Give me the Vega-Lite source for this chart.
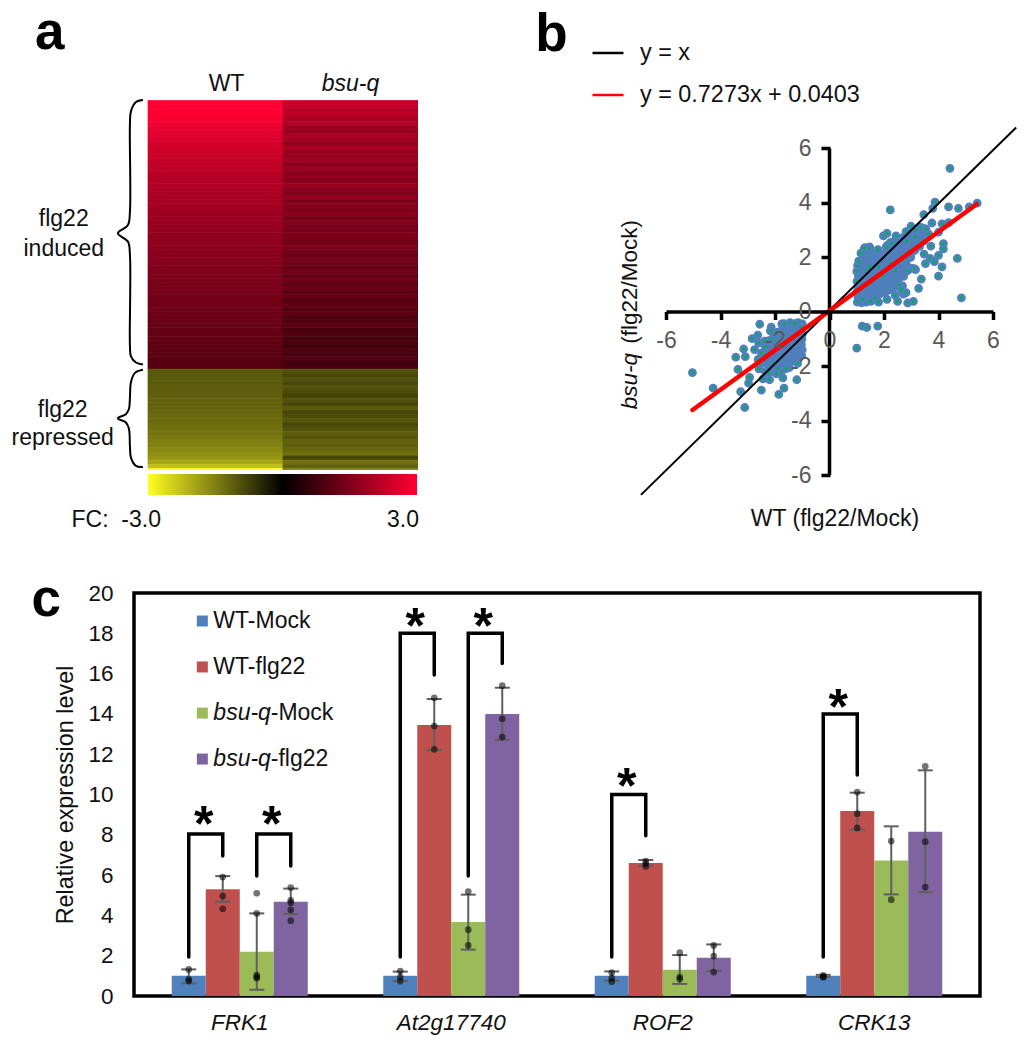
{"$schema":"https://vega.github.io/schema/vega-lite/v6.json","background":"white","padding":{"left":11,"top":7,"right":0,"bottom":0},"config":{"font":"Liberation Sans","view":{"stroke":null},"axis":{"grid":false}},"columns":2,"align":"none","bounds":"flush","spacing":{"row":118,"column":-314},"concat":[
{"width":284,"height":370,"layer":[
{"data":{"values":[
{"g":"WT","r":0,"f":3},{"g":"WT","r":2,"f":3},{"g":"WT","r":4,"f":3},{"g":"WT","r":6,"f":3},{"g":"WT","r":8,"f":2.95},{"g":"WT","r":10,"f":2.85},{"g":"WT","r":12,"f":2.78},{"g":"WT","r":14,"f":2.7},{"g":"WT","r":16,"f":2.64},{"g":"WT","r":18,"f":2.58},{"g":"WT","r":20,"f":2.52},{"g":"WT","r":22,"f":2.46},{"g":"WT","r":24,"f":2.41},{"g":"WT","r":26,"f":2.36},{"g":"WT","r":28,"f":2.32},{"g":"WT","r":30,"f":2.27},{"g":"WT","r":32,"f":2.23},{"g":"WT","r":34,"f":2.19},{"g":"WT","r":36,"f":2.15},{"g":"WT","r":38,"f":2.12},{"g":"WT","r":40,"f":2.08},{"g":"WT","r":42,"f":2.05},{"g":"WT","r":44,"f":2.02},{"g":"WT","r":46,"f":1.99},{"g":"WT","r":48,"f":1.96},{"g":"WT","r":50,"f":1.93},{"g":"WT","r":52,"f":1.9},{"g":"WT","r":54,"f":1.87},{"g":"WT","r":56,"f":1.84},{"g":"WT","r":58,"f":1.81},{"g":"WT","r":60,"f":1.78},{"g":"WT","r":62,"f":1.75},{"g":"WT","r":64,"f":1.73},{"g":"WT","r":66,"f":1.7},{"g":"WT","r":68,"f":1.67},{"g":"WT","r":70,"f":1.65},{"g":"WT","r":72,"f":1.62},{"g":"WT","r":74,"f":1.6},{"g":"WT","r":76,"f":1.57},{"g":"WT","r":78,"f":1.55},{"g":"WT","r":80,"f":1.52},{"g":"WT","r":82,"f":1.5},{"g":"WT","r":84,"f":1.47},{"g":"WT","r":86,"f":1.45},{"g":"WT","r":88,"f":1.43},{"g":"WT","r":90,"f":1.41},{"g":"WT","r":92,"f":1.39},{"g":"WT","r":94,"f":1.36},{"g":"WT","r":96,"f":1.34},{"g":"WT","r":98,"f":1.32},{"g":"WT","r":100,"f":1.3},{"g":"WT","r":102,"f":1.28},{"g":"WT","r":104,"f":1.26},{"g":"WT","r":106,"f":1.24},{"g":"WT","r":108,"f":1.22},{"g":"WT","r":110,"f":1.2},{"g":"WT","r":112,"f":1.18},{"g":"WT","r":114,"f":1.16},{"g":"WT","r":116,"f":1.14},{"g":"WT","r":118,"f":1.12},{"g":"WT","r":120,"f":1.1},{"g":"WT","r":122,"f":1.08},{"g":"WT","r":124,"f":1.06},{"g":"WT","r":126,"f":1.04},{"g":"WT","r":128,"f":1.02},
{"g":"WT","r":130,"f":-1.05},{"g":"WT","r":132,"f":-1.05},{"g":"WT","r":134,"f":-1.06},{"g":"WT","r":136,"f":-1.07},{"g":"WT","r":138,"f":-1.08},{"g":"WT","r":140,"f":-1.1},{"g":"WT","r":142,"f":-1.12},{"g":"WT","r":144,"f":-1.14},{"g":"WT","r":146,"f":-1.16},{"g":"WT","r":148,"f":-1.18},{"g":"WT","r":150,"f":-1.2},{"g":"WT","r":152,"f":-1.23},{"g":"WT","r":154,"f":-1.26},{"g":"WT","r":156,"f":-1.29},{"g":"WT","r":158,"f":-1.33},{"g":"WT","r":160,"f":-1.37},{"g":"WT","r":162,"f":-1.42},{"g":"WT","r":164,"f":-1.47},{"g":"WT","r":166,"f":-1.53},{"g":"WT","r":168,"f":-1.6},{"g":"WT","r":170,"f":-1.68},{"g":"WT","r":172,"f":-1.78},{"g":"WT","r":174,"f":-1.95},{"g":"WT","r":176,"f":-2.25},{"g":"WT","r":178,"f":-3},
{"g":"bsu-q","r":0,"f":2.35},{"g":"bsu-q","r":2,"f":2.3},{"g":"bsu-q","r":4,"f":2.15},{"g":"bsu-q","r":6,"f":2.25},{"g":"bsu-q","r":8,"f":2.0},{"g":"bsu-q","r":10,"f":2.1},{"g":"bsu-q","r":12,"f":1.85},{"g":"bsu-q","r":14,"f":1.75},{"g":"bsu-q","r":16,"f":2.0},{"g":"bsu-q","r":18,"f":1.9},{"g":"bsu-q","r":20,"f":1.7},{"g":"bsu-q","r":22,"f":2.05},{"g":"bsu-q","r":24,"f":1.8},{"g":"bsu-q","r":26,"f":1.75},{"g":"bsu-q","r":28,"f":1.9},{"g":"bsu-q","r":30,"f":1.6},{"g":"bsu-q","r":32,"f":1.85},{"g":"bsu-q","r":34,"f":1.65},{"g":"bsu-q","r":36,"f":1.7},{"g":"bsu-q","r":38,"f":1.55},{"g":"bsu-q","r":40,"f":1.85},{"g":"bsu-q","r":42,"f":1.6},{"g":"bsu-q","r":44,"f":1.5},{"g":"bsu-q","r":46,"f":1.7},{"g":"bsu-q","r":48,"f":1.45},{"g":"bsu-q","r":50,"f":1.6},{"g":"bsu-q","r":52,"f":1.5},{"g":"bsu-q","r":54,"f":1.65},{"g":"bsu-q","r":56,"f":1.4},{"g":"bsu-q","r":58,"f":1.55},{"g":"bsu-q","r":60,"f":1.45},{"g":"bsu-q","r":62,"f":1.35},{"g":"bsu-q","r":64,"f":1.5},{"g":"bsu-q","r":66,"f":1.4},{"g":"bsu-q","r":68,"f":1.3},{"g":"bsu-q","r":70,"f":1.5},{"g":"bsu-q","r":72,"f":1.35},{"g":"bsu-q","r":74,"f":1.25},{"g":"bsu-q","r":76,"f":1.4},{"g":"bsu-q","r":78,"f":1.3},{"g":"bsu-q","r":80,"f":1.2},{"g":"bsu-q","r":82,"f":1.35},{"g":"bsu-q","r":84,"f":1.15},{"g":"bsu-q","r":86,"f":1.3},{"g":"bsu-q","r":88,"f":1.1},{"g":"bsu-q","r":90,"f":1.25},{"g":"bsu-q","r":92,"f":1.05},{"g":"bsu-q","r":94,"f":1.2},{"g":"bsu-q","r":96,"f":1.0},{"g":"bsu-q","r":98,"f":1.15},{"g":"bsu-q","r":100,"f":0.95},{"g":"bsu-q","r":102,"f":1.1},{"g":"bsu-q","r":104,"f":0.9},{"g":"bsu-q","r":106,"f":0.95},{"g":"bsu-q","r":108,"f":1.05},{"g":"bsu-q","r":110,"f":0.85},{"g":"bsu-q","r":112,"f":0.95},{"g":"bsu-q","r":114,"f":0.8},{"g":"bsu-q","r":116,"f":0.9},{"g":"bsu-q","r":118,"f":0.75},{"g":"bsu-q","r":120,"f":0.95},{"g":"bsu-q","r":122,"f":0.8},{"g":"bsu-q","r":124,"f":1.05},{"g":"bsu-q","r":126,"f":0.8},{"g":"bsu-q","r":128,"f":0.9},
{"g":"bsu-q","r":130,"f":-0.95},{"g":"bsu-q","r":132,"f":-0.85},{"g":"bsu-q","r":134,"f":-0.95},{"g":"bsu-q","r":136,"f":-0.85},{"g":"bsu-q","r":138,"f":-1.0},{"g":"bsu-q","r":140,"f":-0.9},{"g":"bsu-q","r":142,"f":-0.8},{"g":"bsu-q","r":144,"f":-0.95},{"g":"bsu-q","r":146,"f":-0.85},{"g":"bsu-q","r":148,"f":-1.05},{"g":"bsu-q","r":150,"f":-0.85},{"g":"bsu-q","r":152,"f":-0.9},{"g":"bsu-q","r":154,"f":-1.0},{"g":"bsu-q","r":156,"f":-0.85},{"g":"bsu-q","r":158,"f":-0.95},{"g":"bsu-q","r":160,"f":-1.1},{"g":"bsu-q","r":162,"f":-1.0},{"g":"bsu-q","r":164,"f":-1.15},{"g":"bsu-q","r":166,"f":-1.1},{"g":"bsu-q","r":168,"f":-1.2},{"g":"bsu-q","r":170,"f":-1.3},{"g":"bsu-q","r":172,"f":-0.85},{"g":"bsu-q","r":174,"f":-1.35},{"g":"bsu-q","r":176,"f":-1.15},{"g":"bsu-q","r":178,"f":-1.6}
]},"mark":{"type":"rect","clip":true,"strokeWidth":0.7},"encoding":{
"x":{"field":"g","type":"nominal","scale":{"domain":["WT","bsu-q"],"range":[14,284],"paddingInner":0,"paddingOuter":0},"axis":{"orient":"top","title":null,"domain":false,"ticks":false,"labelAngle":0,"labelFontSize":23,"labelColor":"#111111","labelPadding":5,"labelOffset":{"condition":{"test":"datum.value=='WT'","value":11},"value":0},"labelFontStyle":{"condition":{"test":"datum.value=='bsu-q'","value":"italic"},"value":"normal"}}},
"y":{"field":"r","type":"quantitative","bin":{"binned":true,"step":2},"scale":{"domain":[0,179],"reverse":true,"nice":false,"zero":false},"axis":null},
"stroke":{"field":"f","type":"quantitative","scale":{"domain":[-3,0,3],"range":["#ffff22","#000000","#ff0033"],"interpolate":"rgb"},"legend":null},
"color":{"field":"f","type":"quantitative","scale":{"domain":[-3,0,3],"range":["#ffff22","#000000","#ff0033"],"interpolate":"rgb"},"legend":{"orient":"none","legendX":14,"legendY":374,"direction":"horizontal","gradientLength":269,"gradientThickness":21,"title":null,"values":[-3,3],"labelFontSize":23,"labelColor":"#111111","labelOffset":14,"labelExpr":"datum.value<0?'FC:\u00a0\u00a0-3.0':'3.0'","encode":{"labels":{"update":{"x":{"signal":"datum.value<0?13:271"},"align":{"value":"right"}}}}}}
}},
{"data":{"values":[
{"b":1,"i":0,"fx":-0.0186,"r":0},{"b":1,"i":1,"fx":-0.0446,"r":1},{"b":1,"i":2,"fx":-0.0632,"r":5.5},{"b":1,"i":3,"fx":-0.0669,"r":11.5},{"b":1,"i":4,"fx":-0.0669,"r":54},{"b":1,"i":5,"fx":-0.0743,"r":60.5},{"b":1,"i":6,"fx":-0.1115,"r":64.5},{"b":1,"i":7,"fx":-0.0743,"r":68.5},{"b":1,"i":8,"fx":-0.0669,"r":75},{"b":1,"i":9,"fx":-0.0669,"r":119},{"b":1,"i":10,"fx":-0.0632,"r":124},{"b":1,"i":11,"fx":-0.0446,"r":127},{"b":1,"i":12,"fx":-0.0186,"r":128},
{"b":2,"i":0,"fx":-0.0186,"r":130.5},{"b":2,"i":1,"fx":-0.0483,"r":132},{"b":2,"i":2,"fx":-0.0632,"r":136.5},{"b":2,"i":3,"fx":-0.0669,"r":144},{"b":2,"i":4,"fx":-0.0706,"r":149.5},{"b":2,"i":5,"fx":-0.0818,"r":152},{"b":2,"i":6,"fx":-0.1115,"r":154},{"b":2,"i":7,"fx":-0.0818,"r":156},{"b":2,"i":8,"fx":-0.0706,"r":159},{"b":2,"i":9,"fx":-0.0669,"r":167.5},{"b":2,"i":10,"fx":-0.0632,"r":173},{"b":2,"i":11,"fx":-0.0446,"r":177},{"b":2,"i":12,"fx":-0.0186,"r":177.5}
]},"mark":{"type":"line","interpolate":"catmull-rom","color":"#000000","strokeWidth":2},"encoding":{
"x":{"field":"fx","type":"quantitative","scale":{"domain":[0,1],"range":[14,284],"nice":false,"zero":false},"axis":null},
"y":{"field":"r","type":"quantitative","scale":{"domain":[0,179],"reverse":true,"nice":false,"zero":false},"axis":null},
"detail":{"field":"b"},"order":{"field":"i"}}},
{"data":{"values":[{"t":"flg22","fx":-0.312,"r":57.5},{"t":"induced","fx":-0.312,"r":72},{"t":"flg22","fx":-0.316,"r":150},{"t":"repressed","fx":-0.316,"r":163.5}]},"mark":{"type":"text","fontSize":23,"color":"#111111","align":"center","baseline":"middle"},"encoding":{
"x":{"field":"fx","type":"quantitative","scale":{"domain":[0,1],"range":[14,284],"nice":false,"zero":false},"axis":null},
"y":{"field":"r","type":"quantitative","scale":{"domain":[0,179],"reverse":true,"nice":false,"zero":false},"axis":null},
"text":{"field":"t"}}},
{"data":{"values":[{"t":"a","fx":-0.364,"r":-24.5}]},"mark":{"type":"text","fontSize":53,"fontWeight":"bold","color":"#000000","align":"center","baseline":"alphabetic"},"encoding":{
"x":{"field":"fx","type":"quantitative","scale":{"domain":[0,1],"range":[14,284],"nice":false,"zero":false},"axis":null},
"y":{"field":"r","type":"quantitative","scale":{"domain":[0,179],"reverse":true,"nice":false,"zero":false},"axis":null},
"text":{"field":"t"}}}
],"resolve":{"scale":{"x":"independent"}}},
{"width":327,"height":375,
"encoding":{
"x":{"field":"x","type":"quantitative","scale":{"domain":[-6,6],"nice":false,"zero":false},"axis":{"title":null,"offset":-163.5,"values":[-6,-4,-2,0,2,4,6],"labelExpr":"''+datum.value","domainWidth":3.5,"domainColor":"#000000","tickColor":"#000000","tickWidth":3.5,"tickSize":8,"labelFontSize":23,"labelColor":"#595959","labelPadding":10,"labelFlush":false,"zindex":1}},
"y":{"field":"y","type":"quantitative","scale":{"domain":[-6,7.78],"nice":false,"zero":false},"axis":{"title":null,"offset":-164,"values":[-6,-4,-2,0,2,4,6],"labelExpr":"''+datum.value","domain":false,"tickColor":"#000000","tickWidth":3.5,"tickSize":9,"labelFontSize":23,"labelColor":"#595959","labelPadding":10,"zindex":1}}},
"layer":[
{"data":{"values":[{"x":0,"y":-6,"y2":6}]},"mark":{"type":"rule","strokeWidth":3.5,"color":"#000000"},"encoding":{"y2":{"field":"y2"}}},
{"data":{"values":[
{"x":1.05,"y":0.52},{"x":1.04,"y":0.9},{"x":1.06,"y":1.3},
{"x":1.2,"y":0.62},{"x":1.17,"y":0.8},{"x":1.23,"y":1.01},{"x":1.2,"y":1.2},{"x":1.16,"y":1.41},{"x":1.21,"y":1.6},{"x":1.19,"y":1.81},{"x":1.24,"y":2.0},
{"x":1.37,"y":0.55},{"x":1.33,"y":0.72},{"x":1.38,"y":0.95},{"x":1.35,"y":1.15},{"x":1.32,"y":1.35},{"x":1.34,"y":1.75},{"x":1.39,"y":1.95},{"x":1.33,"y":2.15},
{"x":1.48,"y":0.6},{"x":1.53,"y":0.82},{"x":1.47,"y":1.25},{"x":1.54,"y":1.45},{"x":1.51,"y":1.85},{"x":1.46,"y":2.05},{"x":1.53,"y":2.2},
{"x":1.63,"y":0.75},{"x":1.68,"y":0.95},{"x":1.65,"y":1.15},{"x":1.62,"y":1.35},{"x":1.67,"y":1.55},{"x":1.64,"y":1.75},{"x":1.69,"y":1.95},{"x":1.63,"y":2.1},
{"x":1.83,"y":0.65},{"x":1.78,"y":0.85},{"x":1.82,"y":1.05},{"x":1.79,"y":1.25},{"x":1.84,"y":1.45},{"x":1.77,"y":1.85},{"x":1.83,"y":2.05},
{"x":1.96,"y":0.7},{"x":1.93,"y":0.9},{"x":1.97,"y":1.1},{"x":1.98,"y":1.5},{"x":1.95,"y":1.7},{"x":1.92,"y":1.9},{"x":1.97,"y":2.1},
{"x":2.08,"y":0.75},{"x":2.12,"y":0.95},{"x":2.09,"y":1.15},{"x":2.13,"y":1.35},{"x":2.1,"y":1.55},{"x":2.07,"y":1.75},{"x":2.12,"y":1.95},{"x":2.09,"y":2.2},{"x":2.13,"y":2.45},
{"x":2.26,"y":0.8},{"x":2.23,"y":1.0},{"x":2.27,"y":1.2},{"x":2.24,"y":1.4},{"x":2.28,"y":1.6},{"x":2.22,"y":2.0},{"x":2.27,"y":2.25},{"x":2.24,"y":2.55},
{"x":2.38,"y":0.9},{"x":2.42,"y":1.1},{"x":2.39,"y":1.3},{"x":2.4,"y":1.7},{"x":2.37,"y":1.9},{"x":2.42,"y":2.1},{"x":2.39,"y":2.35},{"x":2.43,"y":2.65},
{"x":2.53,"y":1.2},{"x":2.57,"y":1.4},{"x":2.54,"y":1.6},{"x":2.58,"y":1.8},{"x":2.55,"y":2.0},{"x":2.52,"y":2.2},{"x":2.57,"y":2.45},
{"x":2.72,"y":1.3},{"x":2.69,"y":1.5},{"x":2.73,"y":1.7},{"x":2.67,"y":2.1},{"x":2.72,"y":2.3},{"x":2.69,"y":2.55},{"x":2.73,"y":2.75},
{"x":2.83,"y":1.7},{"x":2.87,"y":1.95},{"x":2.84,"y":2.15},{"x":2.88,"y":2.35},{"x":2.82,"y":2.85},
{"x":2.98,"y":2.0},{"x":3.02,"y":2.2},{"x":2.99,"y":2.45},{"x":3.03,"y":2.7},{"x":3.0,"y":2.95},
{"x":3.13,"y":2.25},{"x":3.17,"y":2.5},{"x":3.18,"y":3.0},
{"x":3.31,"y":2.4},{"x":3.28,"y":2.65},{"x":3.32,"y":2.9},
{"x":3.43,"y":2.85},{"x":3.47,"y":3.05},
{"x":-1.02,"y":-0.6},{"x":-0.99,"y":-0.8},{"x":-1.01,"y":-1.0},{"x":-1.03,"y":-1.2},{"x":-1.0,"y":-1.4},{"x":-1.02,"y":-1.6},
{"x":-1.17,"y":-0.6},{"x":-1.14,"y":-0.85},{"x":-1.16,"y":-1.05},{"x":-1.18,"y":-1.25},{"x":-1.15,"y":-1.45},{"x":-1.13,"y":-1.7},
{"x":-1.3,"y":-0.5},{"x":-1.32,"y":-0.7},{"x":-1.29,"y":-0.9},{"x":-1.31,"y":-1.1},{"x":-1.33,"y":-1.3},{"x":-1.3,"y":-1.5},{"x":-1.28,"y":-1.75},
{"x":-1.47,"y":-0.65},{"x":-1.44,"y":-0.85},{"x":-1.46,"y":-1.1},{"x":-1.48,"y":-1.35},{"x":-1.45,"y":-1.6},{"x":-1.43,"y":-1.85},
{"x":-1.6,"y":-0.6},{"x":-1.62,"y":-0.8},{"x":-1.61,"y":-1.3},{"x":-1.63,"y":-1.55},{"x":-1.6,"y":-1.8},{"x":-1.58,"y":-2.0},
{"x":-1.77,"y":-0.7},{"x":-1.74,"y":-0.95},{"x":-1.76,"y":-1.2},{"x":-1.78,"y":-1.45},{"x":-1.73,"y":-1.95},
{"x":-1.92,"y":-1.1},{"x":-1.89,"y":-1.35},{"x":-1.91,"y":-1.6},{"x":-1.93,"y":-1.85},
{"x":-2.07,"y":-1.25},{"x":-2.04,"y":-1.55},{"x":-2.08,"y":-2.05},
{"x":-2.22,"y":-1.4},{"x":-2.19,"y":-1.7},{"x":-2.21,"y":-2.0},
{"x":-2.37,"y":-1.6},{"x":-2.34,"y":-1.9}
]},"mark":{"type":"point","filled":true,"color":"#4f7fbc","stroke":"#4f7fbc","strokeWidth":2.8,"opacity":1,"size":36}},
{"data":{"values":[
{"x":1.02,"y":0.35},{"x":1.0,"y":0.71},{"x":1.01,"y":1.12},{"x":1.0,"y":1.48},{"x":1.03,"y":1.69},{"x":1.07,"y":1.86},{"x":1.18,"y":0.33},{"x":1.34,"y":0.35},{"x":1.52,"y":0.38},{"x":1.8,"y":0.35},{"x":1.66,"y":0.5},{"x":2.11,"y":0.45},{"x":1.22,"y":0.46},{"x":1.16,"y":2.15},{"x":1.3,"y":2.35},{"x":1.47,"y":2.38},{"x":1.78,"y":2.28},{"x":1.5,"y":1.05},{"x":1.94,"y":1.3},{"x":2.43,"y":1.5},{"x":2.25,"y":1.8},{"x":1.81,"y":1.65},{"x":1.36,"y":1.55},{"x":2.7,"y":1.9},{"x":2.85,"y":2.6},{"x":3.14,"y":2.75},{"x":3.29,"y":3.1},{"x":1.49,"y":1.65},{"x":2.41,"y":0.6},{"x":2.71,"y":0.65},{"x":2.68,"y":0.95},{"x":2.56,"y":1.0},{"x":3.01,"y":1.6},{"x":3.16,"y":1.55},{"x":2.86,"y":1.5},{"x":3.46,"y":2.6},
{"x":-1.0,"y":-0.45},{"x":-1.15,"y":-0.4},{"x":-1.45,"y":-0.4},{"x":-1.75,"y":-0.45},{"x":-1.9,"y":-0.75},{"x":-2.05,"y":-0.9},{"x":-2.2,"y":-1.05},{"x":-2.35,"y":-1.3},{"x":-2.6,"y":-1.15},{"x":-2.62,"y":-1.75},{"x":-2.59,"y":-2.1},{"x":-2.36,"y":-2.2},{"x":-2.23,"y":-2.25},{"x":-1.77,"y":-2.2},{"x":-1.47,"y":-2.05},{"x":-1.17,"y":-1.9},{"x":-1.9,"y":-2.1},{"x":-1.59,"y":-1.05},{"x":-2.06,"y":-1.8},{"x":-1.75,"y":-1.7},
{"x":4.42,"y":5.27},{"x":2.23,"y":3.74},{"x":3.87,"y":4.03},{"x":3.79,"y":3.8},{"x":3.46,"y":3.57},{"x":4.37,"y":3.85},{"x":4.73,"y":3.8},{"x":5.13,"y":3.85},{"x":5.42,"y":3.99},{"x":3.76,"y":3.26},{"x":4.13,"y":3.23},{"x":4.37,"y":3.27},{"x":4.0,"y":2.92},{"x":4.18,"y":2.5},{"x":4.18,"y":2.31},{"x":3.72,"y":2.41},{"x":3.47,"y":2.12},{"x":3.69,"y":1.96},{"x":3.52,"y":1.77},{"x":4.0,"y":2.07},{"x":3.85,"y":1.84},{"x":4.69,"y":1.96},{"x":4.13,"y":1.65},{"x":4.0,"y":1.31},{"x":3.37,"y":1.2},{"x":3.27,"y":0.86},{"x":4.84,"y":0.51},{"x":3.08,"y":0.38},{"x":2.87,"y":0.32},{"x":2.5,"y":0.38},{"x":2.81,"y":0.7},{"x":2.63,"y":0.82},{"x":3.11,"y":1.58},{"x":1.98,"y":2.79},{"x":2.11,"y":2.88},{"x":2.44,"y":2.79},{"x":2.81,"y":2.94},{"x":2.99,"y":3.14},{"x":1.47,"y":2.34},{"x":1.28,"y":2.34},{"x":1.16,"y":2.15},{"x":1.77,"y":2.26},{"x":2.08,"y":2.38},{"x":2.26,"y":2.53},{"x":3.17,"y":2.98},{"x":3.36,"y":3.1},{"x":3.54,"y":3.04},{"x":3.64,"y":2.85},
{"x":1.2,"y":-0.53},{"x":1.37,"y":-0.58},{"x":1.77,"y":-0.53},{"x":1.0,"y":-1.34},
{"x":-5.03,"y":-2.24},{"x":-4.27,"y":-2.81},{"x":-3.26,"y":-2.94},{"x":-3.11,"y":-3.52},{"x":-2.5,"y":-2.88},{"x":-1.86,"y":-3.04},{"x":-1.67,"y":-2.81},{"x":-1.2,"y":-2.5},{"x":-3.36,"y":-2.12},{"x":-3.44,"y":-1.67},{"x":-3.15,"y":-1.37},{"x":-3.09,"y":-1.65},{"x":-2.84,"y":-0.99},{"x":-2.63,"y":-0.86},{"x":-2.56,"y":-0.46},{"x":-2.14,"y":-0.57},{"x":-2.17,"y":-0.7},{"x":-2.93,"y":-2.41},{"x":-2.97,"y":-2.62},{"x":-2.75,"y":-1.39},{"x":-2.5,"y":-1.52},{"x":-2.38,"y":-1.08},{"x":-2.08,"y":-1.01},{"x":-1.67,"y":-0.44},{"x":-1.28,"y":-0.44},{"x":-1.04,"y":-0.57},{"x":-2.44,"y":-2.47},{"x":-2.2,"y":-2.5},{"x":-1.71,"y":-2.43},{"x":-1.95,"y":-2.28},{"x":-1.59,"y":-2.09},{"x":-2.56,"y":-1.9},{"x":-2.08,"y":-1.9}
]},"mark":{"type":"point","filled":false,"fill":"#00b050","stroke":"#4f7fbc","strokeWidth":2.8,"opacity":1,"size":36}},
{"data":{"values":[{"s":"y = x","x":-6.92,"y":-6.73},{"s":"y = x","x":6.85,"y":6.77}]},"mark":{"type":"line","strokeWidth":2,"clip":false},"encoding":{"color":{"field":"s","type":"nominal","scale":{"domain":["y = x","y = 0.7273x + 0.0403"],"range":["#000000","#ff0000"]},"legend":{"orient":"none","legendX":-75,"legendY":-64,"title":null,"symbolType":"stroke","symbolSize":961,"symbolStrokeWidth":2.5,"labelFontSize":23.4,"labelColor":"#111111","labelOffset":15,"rowPadding":13,"labelLimit":400}}}},
{"data":{"values":[{"s":"y = 0.7273x + 0.0403","x":-5.03,"y":-3.61},{"s":"y = 0.7273x + 0.0403","x":5.4,"y":3.95}]},"mark":{"type":"line","strokeWidth":4.5,"strokeCap":"round"},"encoding":{"color":{"field":"s","type":"nominal"}}},
{"data":{"values":[{"t":"WT (flg22/Mock)","x":0.2,"y":-7.6}]},"mark":{"type":"text","fontSize":23,"color":"#111111","align":"center","baseline":"middle"},"encoding":{"text":{"field":"t"}}},
{"data":{"values":[{"t":"bsu-q","x":-7.33,"y":-2.55}]},"mark":{"type":"text","fontSize":22.5,"fontStyle":"italic","color":"#111111","align":"center","baseline":"middle","angle":270},"encoding":{"text":{"field":"t"}}},
{"data":{"values":[{"t":"(flg22/Mock)","x":-7.33,"y":1.1}]},"mark":{"type":"text","fontSize":22.5,"color":"#111111","align":"center","baseline":"middle","angle":270},"encoding":{"text":{"field":"t"}}},
{"data":{"values":[{"t":"b","x":-10.2,"y":9.58}]},"mark":{"type":"text","fontSize":53,"fontWeight":"bold","color":"#000000","align":"center","baseline":"alphabetic"},"encoding":{"text":{"field":"t"}}}
]},
{"width":846,"height":403,"view":{"stroke":"#000000","strokeWidth":3.5},
"data":{"values":[
{"k":"bar","gene":"FRK1","cond":"WT-Mock","v":1,"lo":0.63,"hi":1.32},{"k":"bar","gene":"FRK1","cond":"WT-flg22","v":5.3,"lo":4.68,"hi":5.95},{"k":"bar","gene":"FRK1","cond":"bsu-q-Mock","v":2.2,"lo":0.31,"hi":4.1},{"k":"bar","gene":"FRK1","cond":"bsu-q-flg22","v":4.68,"lo":4.07,"hi":5.33},
{"k":"bar","gene":"At2g17740","cond":"WT-Mock","v":1,"lo":0.74,"hi":1.21},{"k":"bar","gene":"At2g17740","cond":"WT-flg22","v":13.45,"lo":12.2,"hi":14.74},{"k":"bar","gene":"At2g17740","cond":"bsu-q-Mock","v":3.67,"lo":2.3,"hi":5.03},{"k":"bar","gene":"At2g17740","cond":"bsu-q-flg22","v":14,"lo":12.72,"hi":15.3},
{"k":"bar","gene":"ROF2","cond":"WT-Mock","v":1,"lo":0.76,"hi":1.22},{"k":"bar","gene":"ROF2","cond":"WT-flg22","v":6.6,"lo":6.47,"hi":6.75},{"k":"bar","gene":"ROF2","cond":"bsu-q-Mock","v":1.3,"lo":0.6,"hi":2.03},{"k":"bar","gene":"ROF2","cond":"bsu-q-flg22","v":1.9,"lo":1.24,"hi":2.56},
{"k":"bar","gene":"CRK13","cond":"WT-Mock","v":1,"lo":0.95,"hi":1.05},{"k":"bar","gene":"CRK13","cond":"WT-flg22","v":9.18,"lo":8.25,"hi":10.09},{"k":"bar","gene":"CRK13","cond":"bsu-q-Mock","v":6.72,"lo":5.04,"hi":8.42},{"k":"bar","gene":"CRK13","cond":"bsu-q-flg22","v":8.15,"lo":5.15,"hi":11.2},
{"k":"dot","gene":"FRK1","cond":"WT-Mock","v":1.32},{"k":"dot","gene":"FRK1","cond":"WT-Mock","v":0.83},{"k":"dot","gene":"FRK1","cond":"WT-Mock","v":0.74},{"k":"dot","gene":"FRK1","cond":"WT-flg22","v":5.9},{"k":"dot","gene":"FRK1","cond":"WT-flg22","v":4.96},{"k":"dot","gene":"FRK1","cond":"WT-flg22","v":4.33},{"k":"dot","gene":"FRK1","cond":"bsu-q-Mock","v":5.1},{"k":"dot","gene":"FRK1","cond":"bsu-q-Mock","v":1.04},{"k":"dot","gene":"FRK1","cond":"bsu-q-Mock","v":0.94},{"k":"dot","gene":"FRK1","cond":"bsu-q-Mock","v":0.88},{"k":"dot","gene":"FRK1","cond":"bsu-q-Mock","v":4.1},{"k":"dot","gene":"FRK1","cond":"bsu-q-flg22","v":5.38},{"k":"dot","gene":"FRK1","cond":"bsu-q-flg22","v":4.75},{"k":"dot","gene":"FRK1","cond":"bsu-q-flg22","v":4.63},{"k":"dot","gene":"FRK1","cond":"bsu-q-flg22","v":4.27},{"k":"dot","gene":"FRK1","cond":"bsu-q-flg22","v":3.74},
{"k":"dot","gene":"At2g17740","cond":"WT-Mock","v":1.24},{"k":"dot","gene":"At2g17740","cond":"WT-Mock","v":0.94},{"k":"dot","gene":"At2g17740","cond":"WT-Mock","v":0.74},{"k":"dot","gene":"At2g17740","cond":"WT-flg22","v":14.8},{"k":"dot","gene":"At2g17740","cond":"WT-flg22","v":13.4},{"k":"dot","gene":"At2g17740","cond":"WT-flg22","v":12.24},{"k":"dot","gene":"At2g17740","cond":"bsu-q-Mock","v":5.18},{"k":"dot","gene":"At2g17740","cond":"bsu-q-Mock","v":3.29},{"k":"dot","gene":"At2g17740","cond":"bsu-q-Mock","v":2.51},{"k":"dot","gene":"At2g17740","cond":"bsu-q-flg22","v":15.4},{"k":"dot","gene":"At2g17740","cond":"bsu-q-flg22","v":13.76},{"k":"dot","gene":"At2g17740","cond":"bsu-q-flg22","v":12.85},
{"k":"dot","gene":"ROF2","cond":"WT-Mock","v":1.16},{"k":"dot","gene":"ROF2","cond":"WT-Mock","v":0.88},{"k":"dot","gene":"ROF2","cond":"WT-Mock","v":0.71},{"k":"dot","gene":"ROF2","cond":"WT-flg22","v":6.7},{"k":"dot","gene":"ROF2","cond":"WT-flg22","v":6.57},{"k":"dot","gene":"ROF2","cond":"WT-flg22","v":6.43},{"k":"dot","gene":"ROF2","cond":"bsu-q-Mock","v":2.15},{"k":"dot","gene":"ROF2","cond":"bsu-q-Mock","v":0.94},{"k":"dot","gene":"ROF2","cond":"bsu-q-Mock","v":0.84},{"k":"dot","gene":"ROF2","cond":"bsu-q-flg22","v":2.51},{"k":"dot","gene":"ROF2","cond":"bsu-q-flg22","v":1.98},{"k":"dot","gene":"ROF2","cond":"bsu-q-flg22","v":1.19},
{"k":"dot","gene":"CRK13","cond":"WT-Mock","v":1.03},{"k":"dot","gene":"CRK13","cond":"WT-Mock","v":0.96},{"k":"dot","gene":"CRK13","cond":"WT-Mock","v":0.93},{"k":"dot","gene":"CRK13","cond":"WT-flg22","v":10.12},{"k":"dot","gene":"CRK13","cond":"WT-flg22","v":9.05},{"k":"dot","gene":"CRK13","cond":"WT-flg22","v":8.34},{"k":"dot","gene":"CRK13","cond":"bsu-q-Mock","v":7.69},{"k":"dot","gene":"CRK13","cond":"bsu-q-Mock","v":4.78},{"k":"dot","gene":"CRK13","cond":"bsu-q-flg22","v":11.4},{"k":"dot","gene":"CRK13","cond":"bsu-q-flg22","v":7.66},{"k":"dot","gene":"CRK13","cond":"bsu-q-flg22","v":5.41},
{"k":"br","id":1,"i":0,"gene":"FRK1","cond":"WT-Mock","v":1.93},{"k":"br","id":1,"i":1,"gene":"FRK1","cond":"WT-Mock","v":8.04},{"k":"br","id":1,"i":2,"gene":"FRK1","cond":"WT-flg22","v":8.04},{"k":"br","id":1,"i":3,"gene":"FRK1","cond":"WT-flg22","v":6.95},
{"k":"br","id":2,"i":0,"gene":"FRK1","cond":"bsu-q-Mock","v":5.95},{"k":"br","id":2,"i":1,"gene":"FRK1","cond":"bsu-q-Mock","v":8.04},{"k":"br","id":2,"i":2,"gene":"FRK1","cond":"bsu-q-flg22","v":8.04},{"k":"br","id":2,"i":3,"gene":"FRK1","cond":"bsu-q-flg22","v":6.45},
{"k":"br","id":3,"i":0,"gene":"At2g17740","cond":"WT-Mock","v":1.93},{"k":"br","id":3,"i":1,"gene":"At2g17740","cond":"WT-Mock","v":18},{"k":"br","id":3,"i":2,"gene":"At2g17740","cond":"WT-flg22","v":18},{"k":"br","id":3,"i":3,"gene":"At2g17740","cond":"WT-flg22","v":15.93},
{"k":"br","id":4,"i":0,"gene":"At2g17740","cond":"bsu-q-Mock","v":5.95},{"k":"br","id":4,"i":1,"gene":"At2g17740","cond":"bsu-q-Mock","v":18},{"k":"br","id":4,"i":2,"gene":"At2g17740","cond":"bsu-q-flg22","v":18},{"k":"br","id":4,"i":3,"gene":"At2g17740","cond":"bsu-q-flg22","v":16.5},
{"k":"br","id":5,"i":0,"gene":"ROF2","cond":"WT-Mock","v":1.93},{"k":"br","id":5,"i":1,"gene":"ROF2","cond":"WT-Mock","v":10},{"k":"br","id":5,"i":2,"gene":"ROF2","cond":"WT-flg22","v":10},{"k":"br","id":5,"i":3,"gene":"ROF2","cond":"WT-flg22","v":7.95},
{"k":"br","id":6,"i":0,"gene":"CRK13","cond":"WT-Mock","v":1.93},{"k":"br","id":6,"i":1,"gene":"CRK13","cond":"WT-Mock","v":14},{"k":"br","id":6,"i":2,"gene":"CRK13","cond":"WT-flg22","v":14},{"k":"br","id":6,"i":3,"gene":"CRK13","cond":"WT-flg22","v":10.97},
{"k":"star","gene":"FRK1","cond":"WT-Mock","v":8.93},{"k":"star","gene":"FRK1","cond":"bsu-q-Mock","v":8.93},{"k":"star","gene":"At2g17740","cond":"WT-Mock","v":18.76},{"k":"star","gene":"At2g17740","cond":"bsu-q-Mock","v":18.76},{"k":"star","gene":"ROF2","cond":"WT-Mock","v":10.82},{"k":"star","gene":"CRK13","cond":"WT-Mock","v":14.74},
{"k":"sw","cond":"WT-Mock","ly":18.61},{"k":"sw","cond":"WT-flg22","ly":16.33},{"k":"sw","cond":"bsu-q-Mock","ly":14.04},{"k":"sw","cond":"bsu-q-flg22","ly":11.76},
{"k":"tn","t":"WT-Mock","ly":18.61},{"k":"tn","t":"WT-flg22","ly":16.33},{"k":"ti","t":"bsu-q","ly":14.04},{"k":"ti","t":"bsu-q","ly":11.76},{"k":"ts","t":"-Mock","ly":14.04},{"k":"ts","t":"-flg22","ly":11.76},{"k":"pl","t":"c","ly":18.86}
]},
"encoding":{
"x":{"field":"gene","type":"nominal","scale":{"domain":["FRK1","At2g17740","ROF2","CRK13"],"paddingInner":0.357,"paddingOuter":0.1785},"axis":{"title":null,"labelAngle":0,"domain":false,"ticks":false,"labelFontSize":22.5,"labelFontStyle":"italic","labelColor":"#111111","labelPadding":15}},
"y":{"field":"v","type":"quantitative","scale":{"domain":[0,20],"nice":false},"axis":{"title":"Relative expression level","values":[0,2,4,6,8,10,12,14,16,18,20],"domain":false,"ticks":false,"labelFontSize":22.5,"labelColor":"#111111","labelPadding":21,"titleFontSize":23.4,"titleFontWeight":"normal","titleColor":"#111111","titlePadding":10}}},
"layer":[
{"transform":[{"filter":"datum.k=='bar'"}],"mark":{"type":"bar"},"encoding":{"xOffset":{"field":"cond","type":"nominal","scale":{"domain":["WT-Mock","WT-flg22","bsu-q-Mock","bsu-q-flg22"]}},"color":{"field":"cond","type":"nominal","scale":{"domain":["WT-Mock","WT-flg22","bsu-q-Mock","bsu-q-flg22"],"range":["#4f81bd","#c0504d","#9bbb59","#8064a2"]},"legend":null}}},
{"transform":[{"filter":"datum.k=='bar'"}],"mark":{"type":"rule","strokeWidth":2,"color":"#5f5f5f"},"encoding":{"xOffset":{"field":"cond","type":"nominal"},"y":{"field":"lo","type":"quantitative"},"y2":{"field":"hi"}}},
{"transform":[{"filter":"datum.k=='bar'"}],"mark":{"type":"tick","orient":"horizontal","size":15,"thickness":2,"color":"#5f5f5f","opacity":1},"encoding":{"xOffset":{"field":"cond","type":"nominal"},"y":{"field":"lo","type":"quantitative"}}},
{"transform":[{"filter":"datum.k=='bar'"}],"mark":{"type":"tick","orient":"horizontal","size":15,"thickness":2,"color":"#5f5f5f","opacity":1},"encoding":{"xOffset":{"field":"cond","type":"nominal"},"y":{"field":"hi","type":"quantitative"}}},
{"transform":[{"filter":"datum.k=='dot'"}],"mark":{"type":"point","filled":true,"size":45,"color":"#000000","opacity":0.55},"encoding":{"xOffset":{"field":"cond","type":"nominal"}}},
{"transform":[{"filter":"datum.k=='br'"}],"mark":{"type":"line","color":"#000000","strokeWidth":3.5,"strokeCap":"round","strokeJoin":"miter"},"encoding":{"xOffset":{"field":"cond","type":"nominal"},"detail":{"field":"id"},"order":{"field":"i"}}},
{"transform":[{"filter":"datum.k=='star'"}],"mark":{"type":"text","text":"*","fontSize":50,"fontWeight":"bold","color":"#000000","baseline":"middle","align":"center","dx":15,"dy":10},"encoding":{"xOffset":{"field":"cond","type":"nominal"}}},
{"transform":[{"filter":"datum.k=='sw'"}],"mark":{"type":"point","shape":"square","filled":true,"size":121,"opacity":1,"xOffset":-37.4},"encoding":{"x":{"datum":"FRK1","type":"nominal"},"y":{"field":"ly","type":"quantitative"},"color":{"field":"cond","type":"nominal"}}},
{"transform":[{"filter":"datum.k=='tn'"}],"mark":{"type":"text","fontSize":23,"color":"#111111","align":"left","baseline":"middle","dx":-26.4},"encoding":{"x":{"datum":"FRK1","type":"nominal"},"y":{"field":"ly","type":"quantitative"},"text":{"field":"t"}}},
{"transform":[{"filter":"datum.k=='ti'"}],"mark":{"type":"text","fontSize":23,"fontStyle":"italic","color":"#111111","align":"left","baseline":"middle","dx":-26.4},"encoding":{"x":{"datum":"FRK1","type":"nominal"},"y":{"field":"ly","type":"quantitative"},"text":{"field":"t"}}},
{"transform":[{"filter":"datum.k=='ts'"}],"mark":{"type":"text","fontSize":23,"color":"#111111","align":"left","baseline":"middle","dx":31},"encoding":{"x":{"datum":"FRK1","type":"nominal"},"y":{"field":"ly","type":"quantitative"},"text":{"field":"t"}}},
{"transform":[{"filter":"datum.k=='pl'"}],"mark":{"type":"text","fontSize":53,"fontWeight":"bold","color":"#000000","align":"center","baseline":"alphabetic","dx":-193.4},"encoding":{"x":{"datum":"FRK1","type":"nominal"},"y":{"field":"ly","type":"quantitative"},"text":{"field":"t"}}}
]}
]}
